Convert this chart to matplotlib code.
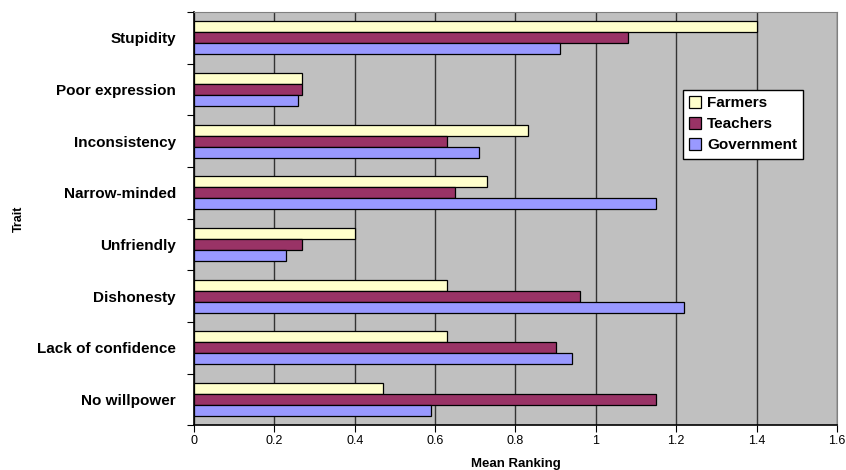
import numpy as np
import matplotlib.pyplot as plt

plt.rcParams['font.family'] = ['Liberation Sans', 'DejaVu Sans']

traits = ['Stupidity', 'Poor expression', 'Inconsistency', 'Narrow-minded',
          'Unfriendly', 'Dishonesty', 'Lack of confidence', 'No willpower']
farmers = [1.40, 0.27, 0.83, 0.73, 0.40, 0.63, 0.63, 0.47]
teachers = [1.08, 0.27, 0.63, 0.65, 0.27, 0.96, 0.90, 1.15]
government = [0.91, 0.26, 0.71, 1.15, 0.23, 1.22, 0.94, 0.59]

series = [('Farmers', farmers, '#FFFFCC'),
          ('Teachers', teachers, '#993366'),
          ('Government', government, '#9999FF')]

fig = plt.figure(figsize=(8.46, 4.70), dpi=100)
ax = fig.add_axes([0.2293, 0.0947, 0.7600, 0.8798])
ax.set_facecolor('#C0C0C0')

y = np.arange(len(traits))
h = 0.213
for k, (name, vals, col) in enumerate(series):
    ax.barh(y + (k - 1) * h, vals, height=h, color=col, edgecolor='black',
            linewidth=0.9, label=name, zorder=3)

ax.set_xlim(0, 1.6)
ax.set_ylim(len(traits) - 0.5, -0.5)
ax.set_xticks(np.arange(0, 1.61, 0.2))
ax.set_xticklabels(['0', '0.2', '0.4', '0.6', '0.8', '1', '1.2', '1.4', '1.6'])
ax.xaxis.grid(True, color='#333333', linewidth=1.0, zorder=1)
ax.tick_params(axis='x', labelsize=9, length=5, direction='out', pad=2)

# category boundaries get tick marks, labels sit at the centres
ax.set_yticks(np.arange(-0.5, len(traits), 1.0))
ax.set_yticklabels([])
ax.set_yticks(y, minor=True)
ax.set_yticklabels(traits, minor=True, fontsize=11, fontweight='bold')
ax.tick_params(axis='y', which='major', length=5, direction='out')
ax.tick_params(axis='y', which='minor', length=0, pad=13)

for s in ['left', 'bottom']:
    ax.spines[s].set_color('black')
    ax.spines[s].set_linewidth(1.2)
for s in ['top', 'right']:
    ax.spines[s].set_color('#808080')

ax.set_xlabel('Mean Ranking', fontsize=9.5, fontweight='bold', labelpad=7.5)
ax.set_ylabel('Trait', fontsize=9, fontweight='bold', labelpad=9)

leg = ax.legend(loc='upper left', bbox_to_anchor=(0.76, 0.811), borderaxespad=0,
                frameon=True, fancybox=False, edgecolor='black', framealpha=1,
                prop={'weight': 'bold', 'size': 11}, handlelength=0.8,
                handleheight=0.8, handletextpad=0.4, labelspacing=0.45)
leg.get_frame().set_linewidth(1.0)

plt.savefig('out.png', dpi=100)
plt.close()
